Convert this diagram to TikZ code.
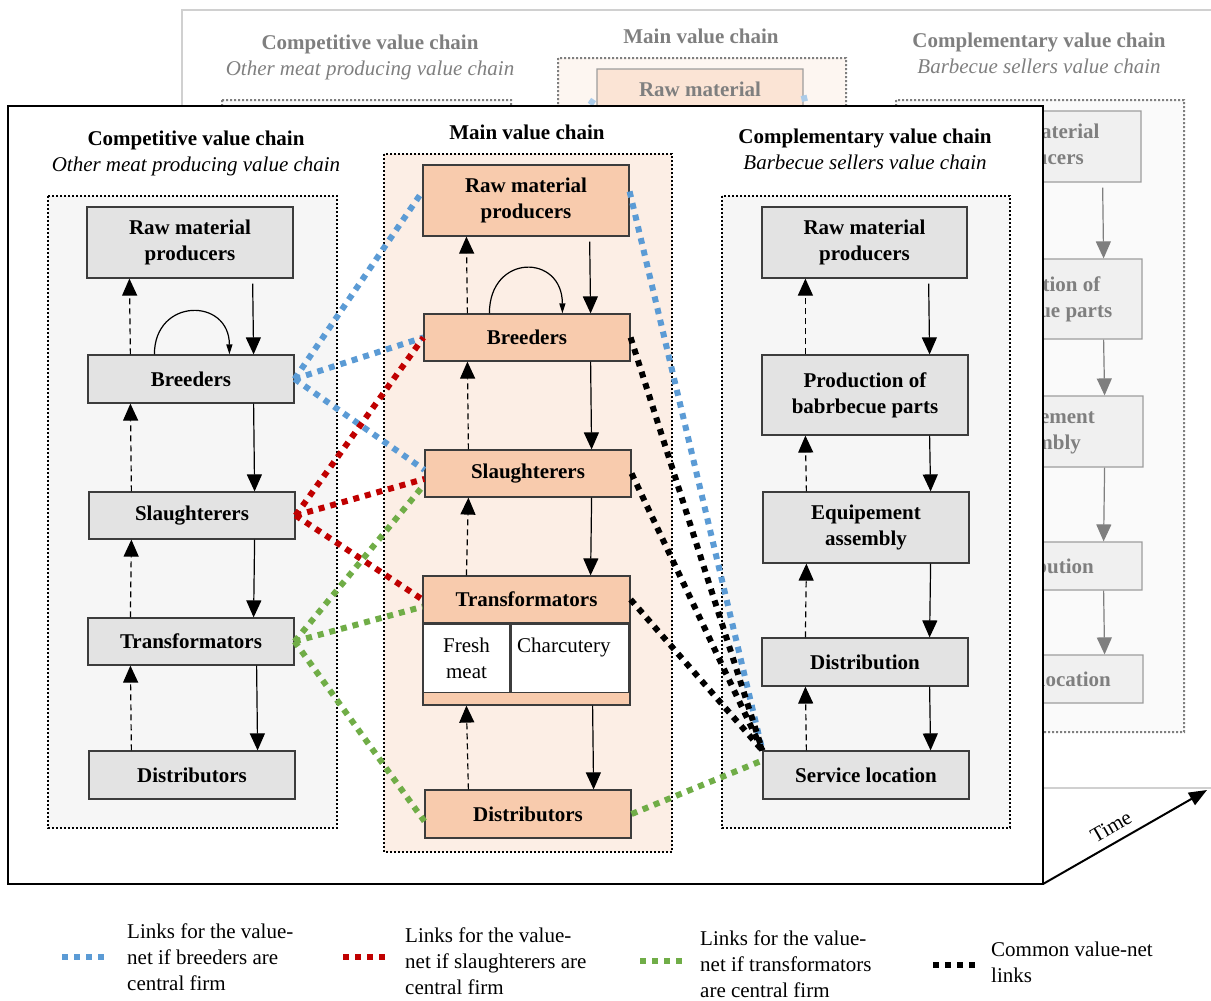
\documentclass[tikz,border=0pt]{standalone}
\usepackage{fontspec}
\setmainfont{Liberation Serif}
\usetikzlibrary{arrows.meta}

\definecolor{boxgray}{HTML}{E3E3E3}
\definecolor{boxpeach}{HTML}{F8CBAD}
\definecolor{grpgray}{HTML}{F6F6F6}
\definecolor{grppeach}{HTML}{FCEEE5}
\definecolor{edgegray}{HTML}{3C3C3C}
\definecolor{panelgray}{HTML}{D0D0D0}
\definecolor{linkblue}{HTML}{5B9BD5}
\definecolor{linkred}{HTML}{C00000}
\definecolor{linkgreen}{HTML}{70AD47}

\tikzset{
  chainbox/.style={draw=edgegray, line width=1.2pt, fill=boxgray, inner sep=0pt,
    align=center, font=\bfseries},
  mainbox/.style={chainbox, fill=boxpeach},
  group/.style={draw=black, line width=2pt, dash pattern=on 2pt off 2pt},
  flow/.style={line width=1.2pt, -{Triangle[width=15pt,length=17pt]}},
  feedback/.style={flow, dash pattern=on 6pt off 4pt},
  loopflow/.style={line width=1.2pt, -{Triangle[width=6pt,length=10pt]}},
  link/.style={line width=6pt, dash pattern=on 6pt off 6pt},
  title/.style={align=center, inner sep=0pt},
  legendtext/.style={anchor=north west, align=left, inner sep=0pt},
}

% The three value chains with their flows and value-net links
\newcommand{\valuenet}{%
  % chain frames
  \path[group, fill=grpgray]  (48,196)  rectangle (337,828);
  \path[group, fill=grppeach] (384,154) rectangle (672,852);
  \path[group, fill=grpgray]  (722,196) rectangle (1010,828);
  % headings
  \node[title] (tComp) at (196,153.5)
    {\textbf{Competitive value chain}\\\textit{Other meat producing value chain}};
  \node[title, font=\bfseries] (tMain) at (527,132) {Main value chain};
  \node[title] (tCompl) at (865,149.5)
    {\textbf{Complementary value chain}\\\textit{Barbecue sellers value chain}};
  % competitive chain
  \node[chainbox, minimum width=206pt, minimum height=71pt] (lRaw) at (190,242.5) {Raw material\\producers};
  \node[chainbox, minimum width=206pt, minimum height=48pt] (lBre) at (191,379) {Breeders};
  \node[chainbox, minimum width=206pt, minimum height=47pt] (lSla) at (192,515.5) {Slaughterers};
  \node[chainbox, minimum width=206pt, minimum height=47pt] (lTra) at (191,641.5) {Transformators};
  \node[chainbox, minimum width=206pt, minimum height=48pt] (lDis) at (192,775) {Distributors};
  % main chain
  \node[mainbox, minimum width=206pt, minimum height=71pt] (mRaw) at (526,200.5) {Raw material\\producers};
  \node[mainbox, minimum width=206pt, minimum height=47pt] (mBre) at (527,337.5) {Breeders};
  \node[mainbox, minimum width=206pt, minimum height=47pt] (mSla) at (528,473.5) {Slaughterers};
  \node[mainbox, minimum width=207pt, minimum height=129pt] (mTra) at (526.5,640.5) {};
  \node[mainbox, minimum width=207pt, minimum height=47pt, anchor=north] (mTraH) at (mTra.north) {Transformators};
  \node[chainbox, fill=white, font=\mdseries, minimum width=87pt, minimum height=68pt,
    anchor=north west] (mFresh) at (mTraH.south west) {Fresh\\meat};
  \node[chainbox, fill=white, font=\mdseries, minimum width=117pt, minimum height=68pt,
    text width=105pt, inner xsep=5pt, align=left, anchor=north west] (mChar) at (mFresh.north east)
    {Charcutery\\\mbox{}};
  \node[mainbox, minimum width=206pt, minimum height=48pt] (mDis) at (528,814) {Distributors};
  % complementary chain
  \node[chainbox, minimum width=205pt, minimum height=71pt] (rRaw) at (864.5,242.5) {Raw material\\producers};
  \node[chainbox, minimum width=206pt, minimum height=80pt] (rPro) at (865,395) {Production of\\babrbecue parts};
  \node[chainbox, minimum width=206pt, minimum height=71pt] (rEqu) at (866,527.5) {Equipement\\assembly};
  \node[chainbox, minimum width=206pt, minimum height=48pt] (rDst) at (865,662) {Distribution};
  \node[chainbox, minimum width=206pt, minimum height=48pt] (rSvc) at (866,775) {Service location};
  % downstream flows (solid) and feedback (dashed)
  \draw[flow, shorten <=5pt] ([xshift=-41pt]lRaw.south east) -- ([xshift=-41pt]lBre.north east);
  \draw[flow] ([xshift=-41pt]lBre.south east) -- ([xshift=-41pt]lSla.north east);
  \draw[flow] ([xshift=-41pt]lSla.south east) -- ([xshift=-41pt]lTra.north east);
  \draw[flow] ([xshift=-38pt]lTra.south east) -- ([xshift=-38pt]lDis.north east);
  \draw[feedback] ([xshift=43pt]lBre.north west) -- ([xshift=43pt]lRaw.south west);
  \draw[feedback] ([xshift=43pt]lSla.north west) -- ([xshift=43pt]lBre.south west);
  \draw[feedback] ([xshift=43pt]lTra.north west) -- ([xshift=43pt]lSla.south west);
  \draw[feedback] ([xshift=43pt]lDis.north west) -- ([xshift=43pt]lTra.south west);
  \draw[loopflow] ([xshift=67pt]lBre.north west) .. controls +(0,-57) and +(0,-57) .. ([xshift=142pt]lBre.north west);
  \draw[flow, shorten <=5pt] ([xshift=-40pt]mRaw.south east) -- ([xshift=-40pt]mBre.north east);
  \draw[flow] ([xshift=-40pt]mBre.south east) -- ([xshift=-40pt]mSla.north east);
  \draw[flow] ([xshift=-40pt]mSla.south east) -- ([xshift=-40pt]mTraH.north east);
  \draw[flow] ([xshift=-38pt]mTra.south east) -- ([xshift=-38pt]mDis.north east);
  \draw[feedback] ([xshift=44pt]mBre.north west) -- ([xshift=44pt]mRaw.south west);
  \draw[feedback] ([xshift=44pt]mSla.north west) -- ([xshift=44pt]mBre.south west);
  \draw[feedback] ([xshift=44pt]mTraH.north west) -- ([xshift=44pt]mSla.south west);
  \draw[feedback] ([xshift=44pt]mDis.north west) -- ([xshift=44pt]mTra.south west);
  \draw[loopflow] ([xshift=66pt]mBre.north west) .. controls +(0,-60) and +(0,-60) .. ([xshift=139pt]mBre.north west);
  \draw[flow, shorten <=5pt] ([xshift=-39pt]rRaw.south east) -- ([xshift=-39pt]rPro.north east);
  \draw[flow] ([xshift=-39pt]rPro.south east) -- ([xshift=-39pt]rEqu.north east);
  \draw[flow] ([xshift=-39pt]rEqu.south east) -- ([xshift=-39pt]rDst.north east);
  \draw[flow] ([xshift=-39pt]rDst.south east) -- ([xshift=-39pt]rSvc.north east);
  \draw[feedback] ([xshift=44pt]rPro.north west) -- ([xshift=44pt]rRaw.south west);
  \draw[feedback] ([xshift=44pt]rEqu.north west) -- ([xshift=44pt]rPro.south west);
  \draw[feedback] ([xshift=44pt]rDst.north west) -- ([xshift=44pt]rEqu.south west);
  \draw[feedback] ([xshift=44pt]rSvc.north west) -- ([xshift=44pt]rDst.south west);
  % value-net links: breeders as central firm
  \draw[link, linkblue] (lBre.east) -- (mRaw.175);
  \draw[link, linkblue] (lBre.east) -- (mBre.west);
  \draw[link, linkblue] (lBre.east) -- (mSla.178);
  \draw[link, linkblue] (mRaw.5) -- (rSvc.north west);
  % slaughterers as central firm
  \draw[link, linkred] (lSla.east) -- (mBre.west);
  \draw[link, linkred] (lSla.east) -- (mSla.183);
  \draw[link, linkred] (lSla.east) -- (mTraH.west);
  % transformators as central firm
  \draw[link, linkgreen] (lTra.east) -- (mSla.186);
  \draw[link, linkgreen] (lTra.east) -- (mTraH.184);
  \draw[link, linkgreen] (lTra.east) -- (mDis.184);
  \draw[link, linkgreen] (mDis.east) -- (rSvc.172);
  % common links
  \draw[link, black] (mBre.east) -- (rSvc.north west);
  \draw[link, black] (mSla.east) -- (rSvc.north west);
  \draw[link, black] (mTraH.east) -- (rSvc.north west);
}

\begin{document}
\fontsize{21}{26}\selectfont
\begin{tikzpicture}[x=1pt, y=-1pt]
  \clip (0,0) rectangle (1211,1001);
  \fill[white] (0,0) rectangle (1211,1001);
  % earlier period, seen behind
  \draw[panelgray, line width=2.5pt, fill=white] (182,10) rectangle (1217,788);
  \begin{scope}[shift={(174,-96)}, transparency group, opacity=0.5]
    \valuenet
  \end{scope}
  % current period
  \coordinate (frontNW) at (8,106);
  \coordinate (frontSE) at (1043,884);
  \draw[line width=2.5pt, fill=white] (frontNW) rectangle (frontSE);
  \valuenet
  % time axis
  \coordinate (timeEnd) at (1207,790);
  \draw[line width=2pt, -{Triangle[width=14pt,length=18pt]}] (frontSE) -- (timeEnd);
  \node[rotate=30] (tTime) at (1111,827) {Time};
  % legend
  \coordinate (kB1) at (62,957);  \coordinate (kB2) at (106,957);
  \coordinate (kR1) at (343,957); \coordinate (kR2) at (387,957);
  \coordinate (kG1) at (640,961); \coordinate (kG2) at (684,961);
  \coordinate (kK1) at (933,965); \coordinate (kK2) at (977,965);
  \draw[link, linkblue]  (kB1) -- (kB2);
  \draw[link, linkred]   (kR1) -- (kR2);
  \draw[link, linkgreen] (kG1) -- (kG2);
  \draw[link, black]     (kK1) -- (kK2);
  \node[legendtext] (legB) at (127,923.7) {Links for the value-\\net if breeders are\\central firm};
  \node[legendtext] (legR) at (405,927.7) {Links for the value-\\net if slaughterers are\\central firm};
  \node[legendtext] (legG) at (700,930.7) {Links for the value-\\net if transformators\\are central firm};
  \node[legendtext] (legK) at (991,941.7) {Common value-net\\links};
\end{tikzpicture}
\end{document}
